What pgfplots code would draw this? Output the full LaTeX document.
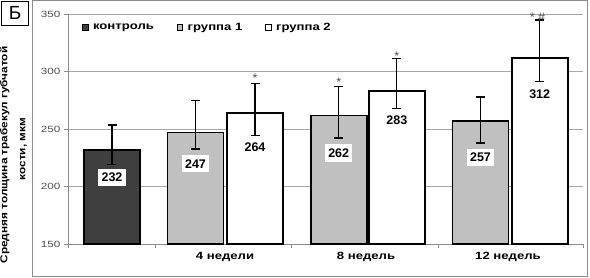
\documentclass[border=0pt]{standalone}
\usepackage{fontspec}
\setmainfont{Liberation Sans}
\newfontfamily\widefont{Liberation Sans}[FakeStretch=1.25]
\newfontfamily\tickfont{Liberation Sans}[FakeStretch=1.3]
\newfontfamily\labfont{Liberation Sans}[FakeStretch=1.18]
\usepackage{pgfplots}
\pgfplotsset{compat=1.18}
\definecolor{ctrl}{HTML}{3F3F3F}
\definecolor{grp1}{HTML}{C0C0C0}
\definecolor{gridc}{HTML}{A6A6A6}
\definecolor{axc}{HTML}{8C8C8C}
\definecolor{tickc}{HTML}{4D4D4D}
\pgfplotsset{
  legbox/.style={legend image code/.code={\draw[##1, line width=0.8pt] (0pt,-2.7pt) rectangle (5.4pt,2.7pt);}},
  barstyle/.style={ybar, bar width=56pt, bar shift=0pt, draw=black, line width=1.6pt, legbox,
    error bars/y dir=both, error bars/y explicit,
    error bars/error bar style={line width=1.3pt, black},
    error bars/error mark options={rotate=90, mark size=4.5pt, line width=1.3pt, black}},
}
\begin{document}
\begin{tikzpicture}[x=1pt,y=1pt]
\path[use as bounding box] (0,0) rectangle (590,278);
\draw[axc, line width=0.8pt] (32.5,2) rectangle (587.5,277.4);
\draw[black, line width=0.8pt] (1.5,253) rectangle (28.5,276.5);
\node[font=\fontsize{19}{20}\selectfont] at (15,265) {Б};
\node[rotate=90, inner sep=0pt, font=\labfont\bfseries\fontsize{10}{12}\selectfont] at (4.8,123) {Средняя толщина трабекул губчатой};
\node[rotate=90, inner sep=0pt, font=\labfont\bfseries\fontsize{10}{12}\selectfont] at (23.5,129) {кости, мкм};
\begin{axis}[
  at={(68pt,33.7pt)}, anchor=south west,
  scale only axis, width=515pt, height=230.3pt,
  xmin=68, xmax=583, ymin=0, ymax=200,
  clip=false,
  y filter/.expression={y-150},
  axis lines*=left,
  axis line style={draw=axc, line width=0.8pt, -},
  ymajorgrids, grid style={gridc, line width=0.8pt},
  ytick={0,50,100,150,200},
  yticklabels={150,200,250,300,350},
  yticklabel style={font=\tickfont\fontsize{9}{10}\selectfont, text=tickc},
  xtick={225,366,508},
  xticklabels={4 недели, 8 недель, 12 недель},
  xticklabel style={font=\widefont\bfseries\fontsize{10.5}{12}\selectfont, text=black},
  major x tick style={draw=none},
  minor xtick={68,155,291,438,583},
  minor x tick style={axc, line width=0.8pt},
  y tick style={axc, line width=0.8pt},
  tick align=outside,
  major tick length=4pt, minor tick length=4pt,
  legend style={at={(0.0275,0.942)}, anchor=west, draw=none, fill=none, inner sep=0pt,
    font=\widefont\bfseries\fontsize{10.5}{12}\selectfont,
    /tikz/every odd column/.append style={column sep=2.5pt},
    /tikz/every even column/.append style={column sep=21pt}},
  legend columns=3,
  legend cell align=left,
]
\addplot[barstyle, fill=ctrl] coordinates {(112,232) += (0,21.7) -= (0,13)};
\addlegendentry{контроль}
\addplot[barstyle, fill=grp1] coordinates {
  (195.5,247) += (0,27.8) -= (0,14.3)
  (338.7,262) += (0,25.3) -= (0,19.7)
  (480.5,257) += (0,21) -= (0,19)
};
\addlegendentry{группа 1}
\addplot[barstyle, fill=white] coordinates {
  (255,264) += (0,25.6) -= (0,19.7)
  (396.8,283) += (0,28.4) -= (0,14.9)
  (539.7,312) += (0,32.8) -= (0,20.4)
};
\addlegendentry{группа 2}
% value labels
\addplot[forget plot, only marks, mark=none, point meta=explicit symbolic, nodes near coords,
  every node near coord/.append style={anchor=center, fill=white, inner xsep=3.2pt, inner ysep=4.3pt,
    font=\bfseries\fontsize{12.5}{13}\selectfont, text=black}]
  coordinates {(112,208) [232] (195.5,220) [247] (255,234.5) [264] (338.7,229.3) [262]
    (396.8,257.7) [283] (480.5,225.4) [257] (539.7,280) [312]};
% significance marks
\addplot[forget plot, only marks, mark=none, point meta=explicit symbolic, nodes near coords,
  every node near coord/.append style={anchor=center, inner sep=0pt,
    font=\fontsize{12.5}{13}\selectfont, text=tickc}]
  coordinates {(255,294) [*] (338.7,290.5) [*] (396.8,313.5) [*] (537.5,347) [{*\ \#}]};
\end{axis}
\end{tikzpicture}
\end{document}
